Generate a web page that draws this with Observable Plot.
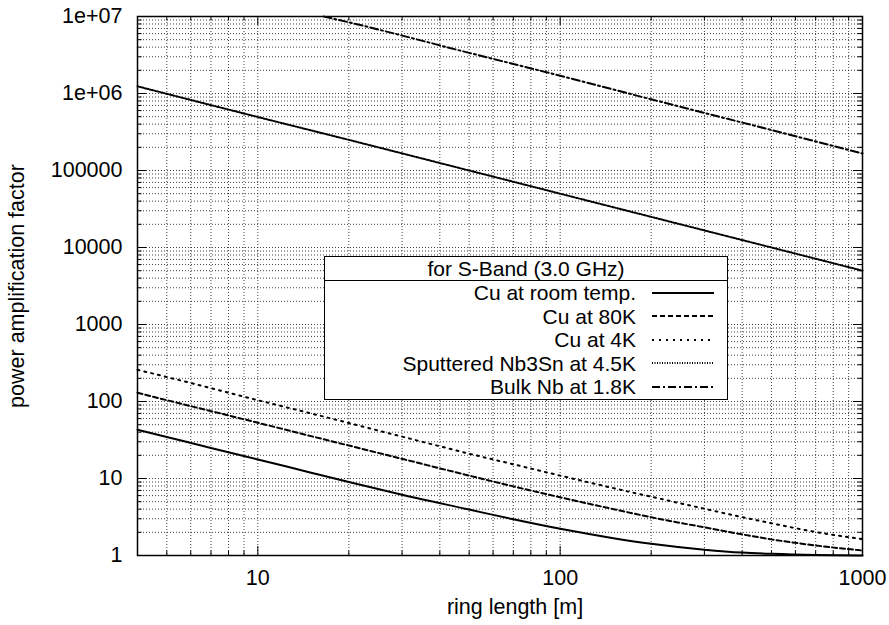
<!DOCTYPE html>
<html><head><meta charset="utf-8">
<script src="https://cdn.jsdelivr.net/npm/d3@7"></script>
<script src="https://cdn.jsdelivr.net/npm/@observablehq/plot@0.6"></script>
<style>
body{margin:0;background:#fff;}
#wrap{position:relative;width:889px;height:625px;font-family:"Liberation Sans",Arial,sans-serif;color:#000;}
#legend{position:absolute;left:324px;top:256px;width:404px;box-sizing:border-box;border:1.5px solid #000;background:#fff;font-size:21px;}
#legend .hdr{height:23px;line-height:23px;text-align:center;border-bottom:1.5px solid #000;}
#legend .row{display:flex;align-items:center;height:23.5px;}
#legend .lbl{width:311px;text-align:right;white-space:nowrap;line-height:23.5px;}
#legend svg{margin-left:16px;}
</style></head>
<body><div id="wrap"></div>
<script>
// ---- data ----
const legendTitle = "for S-Band (3.0 GHz)";
const seriesNames = ["Cu at room temp.", "Cu at 80K", "Cu at 4K", "Sputtered Nb3Sn at 4.5K", "Bulk Nb at 1.8K"];

const cuLength = [4, 5, 7, 10, 15, 20, 30, 50, 70, 100, 150, 200, 300, 400, 500, 700, 1000];
const cuRoom   = [43, 34.6, 24.9, 17.7, 11.9, 9.0, 6.15, 3.95, 2.95, 2.22, 1.68, 1.42, 1.19, 1.09, 1.05, 1.015, 1.003];
const cu80K    = [130, 104, 75, 53, 35.5, 26.8, 18, 10.9, 7.9, 5.7, 4.0, 3.14, 2.32, 1.88, 1.62, 1.35, 1.16];
const cu4K     = [258, 208, 149, 104, 70, 52.5, 35, 21, 15.3, 10.9, 7.5, 5.8, 4.05, 3.15, 2.62, 2.02, 1.63];

const nbSnLength = [4, 10, 20, 50, 100, 200, 500, 1000];
const nbSn       = [1.24e6, 4.95e5, 2.5e5, 1.0e5, 5.0e4, 2.5e4, 1.0e4, 5.0e3];

const bulkNbLength = [16.5, 20, 50, 100, 200, 500, 1000];
const bulkNb       = [1.0e7, 8.4e6, 3.37e6, 1.7e6, 8.4e5, 3.35e5, 1.66e5];

const xMajor = [10, 100, 1000];
const xTickLabels = ["10", "100", "1000"];
const yMajor = [1, 10, 100, 1000, 10000, 100000, 1e6, 1e7];
const yTickLabels = ["1", "10", "100", "1000", "10000", "100000", "1e+06", "1e+07"];
const xLabel = "ring length [m]";
const yLabel = "power amplification factor";

// ---- styles ----
const dashes = [null, "5,3", "2,5", "1,1.5", "8,3,2,3"];

// ---- build tables ----
const toRows = (xs, ys) => xs.map((x, i) => ({length: x, factor: ys[i]}));
const seriesData = [
  toRows(cuLength, cuRoom),
  toRows(cuLength, cu80K),
  toRows(cuLength, cu4K),
  toRows(nbSnLength, nbSn),
  toRows(bulkNbLength, bulkNb)
];

// minor tick positions (mantissas 2..9 in every decade)
const xMinor = [], yMinor = [];
for (const d of [1, 10, 100]) for (let m = 2; m <= 9; m++) if (d * m >= 4) xMinor.push(d * m);
for (let e = 0; e < 7; e++) for (let m = 2; m <= 9; m++) yMinor.push(m * 10 ** e);

const W = 889, H = 625, mL = 137, mR = 27, mT = 16, mB = 70;
const fw = W - mL - mR, fh = H - mT - mB;
const major = 9, minor = 4.5;
const gridStyle = {stroke: "#000", strokeOpacity: 0.75, strokeDasharray: "1,2", strokeWidth: 1};

const chart = Plot.plot({
  width: W, height: H,
  marginLeft: mL, marginRight: mR, marginTop: mT, marginBottom: mB,
  style: {fontSize: "21.5px", fontFamily: "'Liberation Sans', Arial, sans-serif", color: "#000", background: "#fff"},
  x: {type: "log", domain: [4, 1000]},
  y: {type: "log", domain: [1, 1e7]},
  marks: [
    Plot.gridX([...xMinor, ...xMajor.filter(d => d < 1000)], gridStyle),
    Plot.gridY([...yMinor, ...yMajor.filter(d => d > 1 && d < 1e7)], gridStyle),
    // inward tick marks
    Plot.tickX(xMajor, {insetTop: fh - major, stroke: "#000", strokeWidth: 1}),
    Plot.tickX(xMajor, {insetBottom: fh - major, stroke: "#000", strokeWidth: 1}),
    Plot.tickX(xMinor, {insetTop: fh - minor, stroke: "#000", strokeWidth: 1}),
    Plot.tickX(xMinor, {insetBottom: fh - minor, stroke: "#000", strokeWidth: 1}),
    Plot.tickY(yMajor, {insetRight: fw - major, stroke: "#000", strokeWidth: 1}),
    Plot.tickY(yMajor, {insetLeft: fw - major, stroke: "#000", strokeWidth: 1}),
    Plot.tickY(yMinor, {insetRight: fw - minor, stroke: "#000", strokeWidth: 1}),
    Plot.tickY(yMinor, {insetLeft: fw - minor, stroke: "#000", strokeWidth: 1}),
    ...seriesData.map((rows, i) => Plot.line(rows, {
      x: "length", y: "factor", stroke: "#000", strokeWidth: 2,
      strokeDasharray: dashes[i], curve: "monotone-x"
    })),
    Plot.frame({stroke: "#000", strokeWidth: 1.5}),
    Plot.axisX(xMajor, {tickSize: 0, tickPadding: 14, label: null,
      tickFormat: d => xTickLabels[xMajor.indexOf(d)]}),
    Plot.axisY(yMajor, {tickSize: 0, tickPadding: 15, label: null,
      tickFormat: d => yTickLabels[yMajor.indexOf(d)]}),
    Plot.text([xLabel], {frameAnchor: "bottom", textAnchor: "middle", lineAnchor: "bottom", dx: 15, dy: 58, text: d => d, fill: "#000"}),
    Plot.text([yLabel], {frameAnchor: "left", textAnchor: "middle", lineAnchor: "middle", dx: -120, rotate: -90, text: d => d, fill: "#000"})
  ]
});

const wrap = document.getElementById("wrap");
wrap.appendChild(chart);

// legend overlay
const leg = document.createElement("div");
leg.id = "legend";
let html = `<div class="hdr">${legendTitle}</div>`;
seriesNames.forEach((name, i) => {
  html += `<div class="row"><span class="lbl">${name}</span>` +
    `<svg width="62" height="22"><line x1="0" x2="62" y1="11" y2="11" stroke="#000" stroke-width="2"` +
    (dashes[i] ? ` stroke-dasharray="${dashes[i]}"` : "") + `/></svg></div>`;
});
leg.innerHTML = html;
wrap.appendChild(leg);
</script>
</body></html>
